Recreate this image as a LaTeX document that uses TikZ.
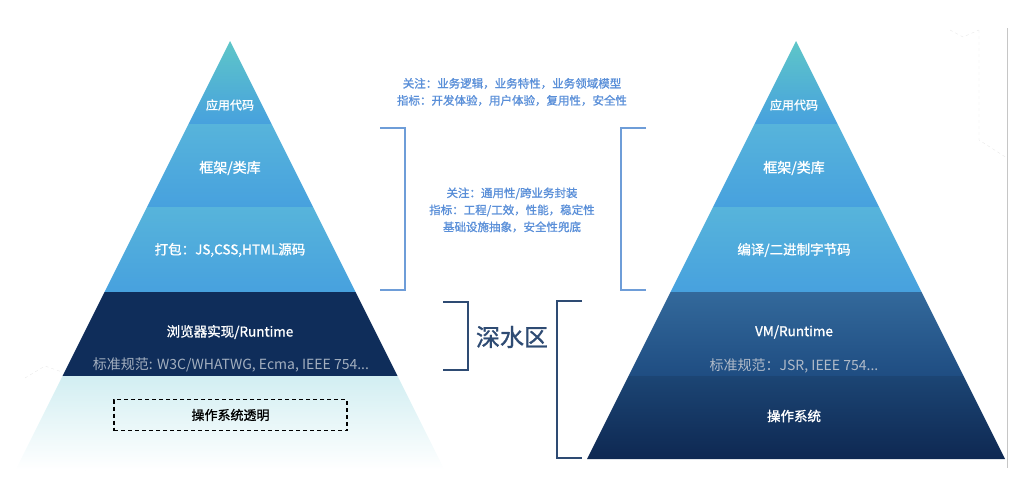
\documentclass[tikz,border=0pt]{standalone}
\usepackage{fontspec}
\setmainfont{Noto Sans CJK SC}
\newfontfamily\medfont[FakeBold=1.2]{Noto Sans CJK SC}
\usetikzlibrary{positioning}

\definecolor{apexteal}{HTML}{5EC6C8}
\definecolor{bandtop}{HTML}{57B4DB}
\definecolor{bandbot}{HTML}{47A1DE}
\definecolor{navy}{HTML}{0F2D5A}
\definecolor{vmtop}{HTML}{33699B}
\definecolor{vmbot}{HTML}{1F4D82}
\definecolor{ostop}{HTML}{1C4574}
\definecolor{osbot}{HTML}{0E2852}
\definecolor{fadecyan}{HTML}{D2EEF2}
\definecolor{specgray}{HTML}{A3AFBF}
\definecolor{noteblue}{HTML}{5A8FD8}
\definecolor{brklight}{HTML}{6E9DD8}
\definecolor{brkdark}{HTML}{2E4B73}

\begin{document}
\begin{tikzpicture}[
  x=1pt, y=-1pt,
  layer/.style={text=white, font=\medfont\fontsize{13.5}{15}\selectfont},
  spec/.style={text=specgray, font=\fontsize{14}{16}\selectfont},
  note/.style={text=noteblue, font=\medfont\fontsize{11.5}{17}\selectfont, align=center},
  lightbrk/.style={draw=brklight, line width=1.6pt},
  darkbrk/.style={draw=brkdark, line width=1.6pt},
  deco/.style={draw=gray!18, dashed, thin},
]
\useasboundingbox (0,0) rectangle (1029,479);

% background decoration
\draw[deco] (950,30) -- (963,37) -- (979,30);
\draw[deco] (979,30) -- (979,140) -- (1007,158);
\draw[deco] (25,378) -- (45,366) -- (62,372);
\draw[deco] (85,470) -- (103,460) -- (128,468);
\draw[gray!45] (1007,28) -- (1007,468);

% left pyramid
\shade[top color=apexteal, bottom color=bandbot] (230,41) -- (271.5,124) -- (188.5,124) -- cycle;
\shade[top color=bandtop, bottom color=bandbot] (188.5,124) -- (271.5,124) -- (313,207) -- (147,207) -- cycle;
\shade[top color=bandtop, bottom color=bandbot] (147,207) -- (313,207) -- (355.5,292) -- (104.5,292) -- cycle;
\fill[navy] (104.5,292) -- (355.5,292) -- (397.5,376) -- (62.5,376) -- cycle;
\shade[top color=fadecyan, bottom color=white] (62.5,376) -- (397.5,376) -- (444.5,470) -- (15.5,470) -- cycle;

\node[layer, font=\medfont\fontsize{12}{14}\selectfont] (lapp) at (230,105) {应用代码};
\node[layer, font=\medfont\fontsize{14}{16}\selectfont] (lfw) at (230,168) {框架/类库};
\node[layer] (lpack) at (230,250) {打包：JS,CSS,HTML源码};
\node[layer] (lrt) at (230,332) {浏览器实现/Runtime};
\node[spec] (lspec) at (231,365) {标准规范: W3C/WHATWG, Ecma, IEEE 754...};
\node[draw, line width=1.2pt, dash pattern=on 4pt off 3pt, minimum width=233pt, minimum height=31pt,
  font=\medfont\fontsize{13}{15}\selectfont] (los) at (230.5,415) {操作系统透明};

% right pyramid
\shade[top color=apexteal, bottom color=bandbot] (796,41) -- (837.5,124) -- (754.5,124) -- cycle;
\shade[top color=bandtop, bottom color=bandbot] (754.5,124) -- (837.5,124) -- (879,207) -- (713,207) -- cycle;
\shade[top color=bandtop, bottom color=bandbot] (713,207) -- (879,207) -- (921.5,292) -- (670.5,292) -- cycle;
\shade[top color=vmtop, bottom color=vmbot] (670.5,292) -- (921.5,292) -- (963.5,376) -- (628.5,376) -- cycle;
\shade[top color=ostop, bottom color=osbot] (628.5,376) -- (963.5,376) -- (1005,459) -- (587,459) -- cycle;

\node[layer, font=\medfont\fontsize{12}{14}\selectfont] (rapp) at (794,105) {应用代码};
\node[layer, font=\medfont\fontsize{14}{16}\selectfont] (rfw) at (794,168) {框架/类库};
\node[layer] (rbyte) at (794,250) {编译/二进制字节码};
\node[layer] (rvm) at (794,332) {VM/Runtime};
\node[spec, text=specgray!85!white] (rspec) at (794,366) {标准规范：JSR, IEEE 754...};
\node[layer] (ros) at (794,416) {操作系统};

% middle notes
\node[note] (biznote) at (512,92) {关注：业务逻辑，业务特性，业务领域模型\\指标：开发体验，用户体验，复用性，安全性};
\node[note] (infranote) at (512,210) {关注：通用性/跨业务封装\\指标：工程/工效，性能，稳定性\\基础设施抽象，安全性兜底};

% brackets
\draw[lightbrk] (380,128) -- (405,128) -- (405,290) -- (380,290);
\draw[lightbrk] (646,128) -- (621,128) -- (621,290) -- (646,290);
\draw[darkbrk] (443,302) -- (468,302) -- (468,370) -- (443,370);
\draw[darkbrk] (582,301) -- (557,301) -- (557,458) -- (582,458);
\node[text=brkdark, font=\medfont\fontsize{24}{26}\selectfont] (deep) at (512,337) {深水区};

\end{tikzpicture}
\end{document}
